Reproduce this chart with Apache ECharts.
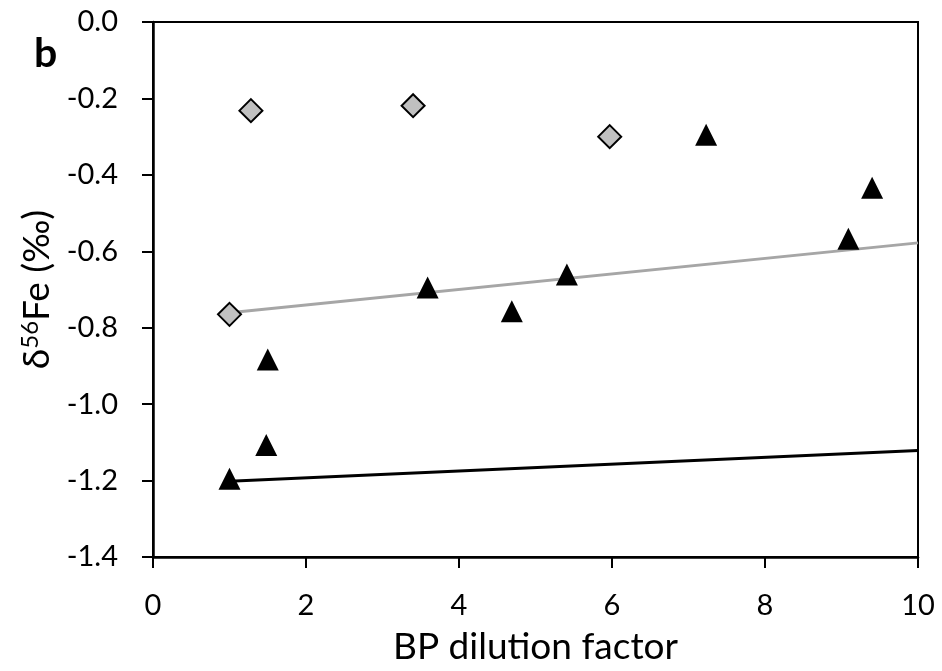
<!DOCTYPE html>
<html>
<head>
<meta charset="utf-8">
<script src="https://cdn.jsdelivr.net/npm/echarts@6/dist/echarts.min.js"></script>
<style>html,body{margin:0;padding:0;background:#fff}#c{width:942px;height:671px}</style>
</head>
<body>
<div id="c"></div>
<script>
// Data
const triX = [1.0, 1.5, 1.48, 3.59, 4.69, 5.41, 7.23, 9.09, 9.40];
const triY = [-1.195, -0.883, -1.107, -0.695, -0.757, -0.661, -0.295, -0.567, -0.434];
const diaX = [1.0, 1.28, 3.40, 5.97];
const diaY = [-0.765, -0.232, -0.219, -0.30];
const grayTrendX = [1, 10];
const grayTrendY = [-0.761, -0.578];
const blackTrendX = [1, 10];
const blackTrendY = [-1.202, -1.121];
const xTicks = [0, 2, 4, 6, 8, 10];
const yTicks = [0.0, -0.2, -0.4, -0.6, -0.8, -1.0, -1.2, -1.4];

const zip = (a, b) => a.map((v, i) => [v, b[i]]);
const FONT = 'Lato';

const chart = echarts.init(document.getElementById('c'), null, {renderer: 'canvas'});
chart.setOption({
  animation: false,
  backgroundColor: '#fff',
  title: {
    text: 'b', left: 29, top: 28,
    textStyle: {fontFamily: FONT, fontWeight: 'bold', fontSize: 41, color: '#000'}
  },
  grid: {left: 153, right: 24, top: 22, bottom: 112, show: true, borderColor: '#000', borderWidth: 2, backgroundColor: 'transparent'},
  xAxis: {
    type: 'value', min: 0, max: 10, interval: 2,
    name: 'BP dilution factor', nameLocation: 'middle', nameGap: 72,
    nameTextStyle: {fontFamily: FONT, fontSize: 37, color: '#000'},
    axisLine: {show: true, onZero: false, lineStyle: {color: '#000', width: 2.5}},
    axisTick: {show: true, inside: false, length: 11, lineStyle: {color: '#000', width: 2}},
    axisLabel: {margin: 34, fontFamily: FONT, fontSize: 29, color: '#000',
      formatter: v => xTicks.includes(v) ? String(v) : ''},
    splitLine: {show: false}
  },
  yAxis: {
    type: 'value', min: -1.4, max: 0, interval: 0.2,
    name: '{d|δ}{s|56}{d|Fe (‰)}', nameLocation: 'middle', nameGap: 96, nameRotate: 90,
    nameTextStyle: {fontFamily: FONT, fontSize: 37, color: '#000',
      rich: {d: {fontFamily: FONT, fontSize: 37, color: '#000'},
             s: {fontFamily: FONT, fontSize: 24, color: '#000', verticalAlign: 'top', padding: [0,0,14,0]}}},
    axisLine: {show: true, onZero: false, lineStyle: {color: '#000', width: 2.5}},
    axisTick: {show: true, inside: false, length: 11, lineStyle: {color: '#000', width: 2}},
    axisLabel: {margin: 35, fontFamily: FONT, fontSize: 29, color: '#000',
      formatter: v => {
        const t = yTicks.find(y => Math.abs(y - v) < 1e-6);
        return t === undefined ? '' : t.toFixed(1).replace('-0.0','0.0');
      }},
    splitLine: {show: false}
  },
  series: [
    {type: 'line', data: zip(grayTrendX, grayTrendY), symbol: 'none', z: 2,
     lineStyle: {color: '#a6a6a6', width: 3}},
    {type: 'line', data: zip(blackTrendX, blackTrendY), symbol: 'none', z: 2,
     lineStyle: {color: '#000', width: 3}},
    {type: 'scatter', data: zip(diaX, diaY), symbol: 'diamond', symbolSize: 23, z: 3,
     itemStyle: {color: '#c0c0c0', borderColor: '#000', borderWidth: 2, opacity: 1}},
    {type: 'scatter', data: zip(triX, triY), symbol: 'triangle', symbolSize: 22, z: 4,
     itemStyle: {color: '#000', opacity: 1}}
  ]
});
</script>
</body>
</html>
